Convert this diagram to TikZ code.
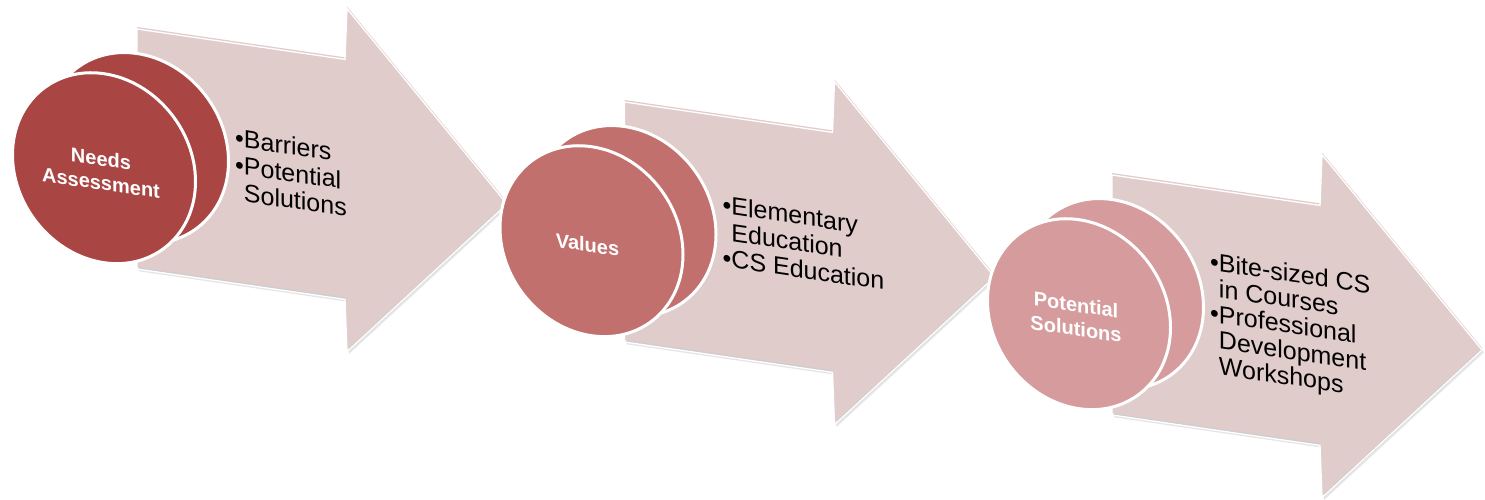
\documentclass[tikz,border=0pt]{standalone}
\usepackage{fontspec}
\setmainfont{Liberation Sans}
\usetikzlibrary{shapes.geometric}

\definecolor{arrowpink}{RGB}{225,204,204}
\definecolor{discA}{RGB}{169,70,68}
\definecolor{discB}{RGB}{194,112,110}
\definecolor{discC}{RGB}{214,156,157}

% bullet list set as a top-aligned two-column table
\newenvironment{bulletlist}[1]
  {\fontsize{25}{#1}\selectfont\begin{tabular}[t]{@{}l@{}l@{}}}
  {\end{tabular}}

\begin{document}
\begin{tikzpicture}[x=1pt,y=1pt,
  arrowshape/.style={insert path={(0,0) -- (208,0) -- (210,51) -- (370,-121)
      -- (210,-292) -- (208,-240) -- (0,-240) -- cycle}},
  arrowbody/.style={fill=arrowpink},
  arrowshadow/.style={fill=black, opacity=0.10},
  arrowedge/.style={draw=white, line width=1.3pt, line join=miter},
  disc/.style={ellipse, draw=white, line width=3pt, minimum width=183pt,
      minimum height=189pt, inner sep=0pt},
  disctext/.style={text=white, font=\fontsize{20}{24}\selectfont\bfseries,
      align=center, inner sep=0pt},
  listtext/.style={anchor=base west, inner sep=0pt},
  group/.style={yslant=-0.146, transform shape}]

\useasboundingbox (0,0) rectangle (1485,-499);
\fill[white] (0,0) rectangle (1485,-499);

% ---- step 1: needs assessment ----
\begin{scope}[shift={(137,-27)}, group]
  \path[arrowshadow, shift={(2,-4)}, arrowshape];
  \path[arrowshadow, shift={(1,-2)}, arrowshape];
  \path[arrowbody, arrowshape];
  \path[arrowedge, shift={(0,-2)}, arrowshape];
  \node[disc, fill=discA] (backA) at (0,-121) {};
  \node[disc, fill=discA] (frontA) at (-33,-146) {};
  \node[disctext] (labelA) at ([shift={(-3,-3)}]frontA.center) {Needs\\Assessment};
  \node[listtext] (listA) at (98,-105)
    {\begin{bulletlist}{27}•&Barriers\\•&Potential\\&Solutions\end{bulletlist}};
\end{scope}

% ---- step 2: values ----
\begin{scope}[shift={(624.5,-100)}, group]
  \path[arrowshadow, shift={(2,-4)}, arrowshape];
  \path[arrowshadow, shift={(1,-2)}, arrowshape];
  \path[arrowbody, arrowshape];
  \path[arrowedge, shift={(0,-2)}, arrowshape];
  \node[disc, fill=discB] (backB) at (0,-121) {};
  \node[disc, fill=discB] (frontB) at (-33,-146) {};
  \node[disctext] (labelB) at ([shift={(-4,-4)}]frontB.center) {Values};
  \node[listtext] (listB) at (98,-99)
    {\begin{bulletlist}{26.5}•&Elementary\\&Education\\•&CS Education\end{bulletlist}};
\end{scope}

% ---- step 3: potential solutions ----
\begin{scope}[shift={(1112,-173)}, group]
  \path[arrowshadow, shift={(2,-4)}, arrowshape];
  \path[arrowshadow, shift={(1,-2)}, arrowshape];
  \path[arrowbody, arrowshape];
  \path[arrowedge, shift={(0,-2)}, arrowshape];
  \node[disc, fill=discC] (backC) at (0,-121) {};
  \node[disc, fill=discC] (frontC) at (-33,-146) {};
  \node[disctext] (labelC) at ([shift={(-3,-3)}]frontC.center) {Potential\\Solutions};
  \node[listtext] (listC) at (98,-83)
    {\begin{bulletlist}{25.5}•&Bite-sized CS\\&in Courses\\•&Professional\\&Development\\&Workshops\end{bulletlist}};
\end{scope}

\end{tikzpicture}
\end{document}
